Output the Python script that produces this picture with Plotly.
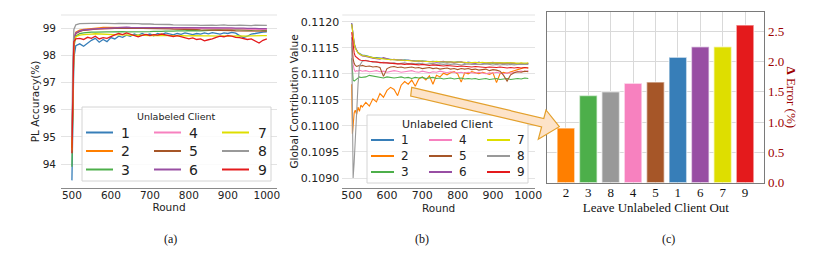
import plotly.graph_objects as go

W, H = 831, 254

CLIENTS = ["1", "2", "3", "4", "5", "6", "7", "8", "9"]
COLORS = {"1": "#377eb8", "2": "#ff7f00", "3": "#4daf4a", "4": "#f781bf", "5": "#a65628",
          "6": "#984ea3", "7": "#dede00", "8": "#999999", "9": "#e41a1c"}

# ---------------- (a) PL accuracy ----------------
ROUNDS_A = [500, 502, 505, 510, 520,
            530, 540, 550, 560, 570, 580, 590, 600,
            610, 620, 630, 640, 650, 660, 670, 680,
            690, 700, 710, 720, 730, 740, 750, 760,
            770, 780, 790, 800, 810, 820, 830, 840,
            850, 860, 870, 880, 890, 900, 910, 920,
            930, 940, 950, 960, 970, 980, 990, 1000]

ACC_1 = [93.4, 96.0, 97.9, 98.35, 98.42,
         98.33, 98.45, 98.55, 98.62, 98.48, 98.58, 98.5, 98.65,
         98.6, 98.7, 98.66, 98.74, 98.7, 98.78, 98.73, 98.8,
         98.74, 98.78, 98.72, 98.8, 98.76, 98.82, 98.78, 98.75,
         98.8, 98.77, 98.82, 98.79, 98.76, 98.8, 98.78, 98.82,
         98.79, 98.83, 98.8, 98.78, 98.82, 98.8, 98.84, 98.81,
         98.72, 98.65, 98.7, 98.78, 98.8, 98.83, 98.85, 98.86]
ACC_2 = [94.7, 97.0, 98.6, 98.85, 98.92,
         98.95, 98.97, 98.99, 99.0, 99.01, 99.02, 99.02, 99.03,
         99.03, 99.02, 99.03, 99.02, 99.02, 99.03, 99.02, 99.01,
         99.02, 99.01, 99.01, 99.02, 99.01, 99.0, 99.01, 99.01,
         99.0, 99.01, 99.0, 99.0, 98.99, 99.0, 98.99, 98.99,
         98.98, 98.99, 98.98, 98.98, 98.97, 98.97, 98.96, 98.97,
         98.96, 98.95, 98.96, 98.95, 98.94, 98.95, 98.93, 98.94]
ACC_3 = [93.9, 96.3, 98.3, 98.7, 98.8,
         98.82, 98.84, 98.85, 98.85, 98.86, 98.85, 98.86, 98.86,
         98.87, 98.86, 98.87, 98.86, 98.86, 98.85, 98.86, 98.87,
         98.86, 98.87, 98.88, 98.87, 98.88, 98.89, 98.88, 98.89,
         98.9, 98.89, 98.9, 98.91, 98.9, 98.91, 98.9, 98.91,
         98.92, 98.91, 98.92, 98.93, 98.92, 98.93, 98.92, 98.93,
         98.93, 98.92, 98.93, 98.92, 98.93, 98.94, 98.92, 98.91]
ACC_4 = [94.8, 97.1, 98.55, 98.8, 98.88,
         98.92, 98.94, 98.95, 98.96, 98.97, 98.97, 98.98, 98.99,
         98.99, 99.0, 98.99, 99.0, 99.0, 98.99, 99.0, 99.0,
         98.99, 99.0, 99.0, 98.99, 99.0, 99.0, 98.99, 99.0,
         99.0, 98.99, 99.0, 99.0, 98.99, 98.99, 99.0, 98.99,
         98.99, 98.98, 98.99, 98.98, 98.98, 98.97, 98.98, 98.97,
         98.96, 98.97, 98.96, 98.95, 98.96, 98.95, 98.94, 98.95]
ACC_5 = [94.6, 96.9, 98.5, 98.8, 98.88,
         98.92, 98.94, 98.95, 98.96, 98.97, 98.98, 98.98, 98.99,
         98.99, 98.99, 99.0, 98.99, 98.99, 99.0, 98.99, 98.99,
         98.99, 98.98, 98.99, 98.98, 98.98, 98.97, 98.97, 98.96,
         98.96, 98.96, 98.95, 98.95, 98.94, 98.94, 98.93, 98.93,
         98.93, 98.92, 98.92, 98.91, 98.92, 98.91, 98.91, 98.9,
         98.9, 98.9, 98.89, 98.9, 98.89, 98.89, 98.88, 98.89]
ACC_6 = [94.9, 97.2, 98.6, 98.82, 98.9,
         98.93, 98.95, 98.96, 98.97, 98.98, 98.99, 99.0, 99.01,
         99.01, 99.02, 99.02, 99.03, 99.02, 99.02, 99.03, 99.02,
         99.02, 99.03, 99.02, 99.02, 99.02, 99.03, 99.02, 99.02,
         99.03, 99.02, 99.02, 99.03, 99.02, 99.02, 99.03, 99.02,
         99.02, 99.02, 99.01, 99.02, 99.02, 99.01, 99.01, 99.0,
         99.01, 99.0, 98.99, 99.0, 98.99, 98.98, 98.99, 98.98]
ACC_7 = [94.5, 96.9, 98.45, 98.68, 98.74,
         98.76, 98.78, 98.78, 98.79, 98.78, 98.77, 98.77, 98.76,
         98.76, 98.75, 98.75, 98.74, 98.74, 98.73, 98.74, 98.73,
         98.73, 98.72, 98.73, 98.72, 98.72, 98.73, 98.72, 98.72,
         98.71, 98.72, 98.71, 98.71, 98.72, 98.71, 98.7, 98.71,
         98.71, 98.7, 98.71, 98.7, 98.71, 98.7, 98.7, 98.71,
         98.7, 98.71, 98.7, 98.71, 98.72, 98.71, 98.72, 98.72]
ACC_8 = [95.0, 97.6, 98.95, 99.12, 99.16,
         99.17, 99.18, 99.17, 99.17, 99.16, 99.17, 99.17, 99.16,
         99.16, 99.17, 99.17, 99.18, 99.17, 99.16, 99.16, 99.15,
         99.16, 99.15, 99.14, 99.14, 99.15, 99.14, 99.13, 99.12,
         99.12, 99.13, 99.12, 99.11, 99.12, 99.11, 99.10, 99.11,
         99.12, 99.11, 99.10, 99.11, 99.12, 99.10, 99.09, 99.10,
         99.11, 99.10, 99.08, 99.09, 99.11, 99.10, 99.11, 99.10]
ACC_9 = [94.4, 96.8, 98.5, 98.6, 98.62,
         98.58, 98.66, 98.62, 98.7, 98.6, 98.65, 98.62, 98.7,
         98.75, 98.8, 98.76, 98.82, 98.77, 98.72, 98.68, 98.73,
         98.77, 98.72, 98.76, 98.74, 98.78, 98.75, 98.71, 98.69,
         98.72, 98.68, 98.65, 98.6, 98.64, 98.58, 98.6, 98.53,
         98.57, 98.6, 98.66, 98.7, 98.68, 98.72, 98.7, 98.66,
         98.65, 98.62, 98.58, 98.6, 98.52, 98.45, 98.55, 98.6]
ACC = {"1": ACC_1, "2": ACC_2, "3": ACC_3, "4": ACC_4, "5": ACC_5,
       "6": ACC_6, "7": ACC_7, "8": ACC_8, "9": ACC_9}

# ---------------- (b) global contribution value ----------------
ROUNDS_B = [500, 502, 504, 507, 510, 514, 518, 522, 526,
            530, 540, 550, 560, 570, 580, 590, 600,
            610, 620, 630, 640, 650, 660, 670, 680,
            690, 700, 710, 720, 730, 740, 750, 760,
            770, 780, 790, 800, 810, 820, 830, 840,
            850, 860, 870, 880, 890, 900, 910, 920,
            930, 940, 950, 960, 970, 980, 990, 1000]

GCV_1 = [0.11197, 0.11185, 0.11170, 0.11158, 0.11150, 0.11145, 0.11141, 0.11139, 0.11137,
         0.11136, 0.11135, 0.11133, 0.11131, 0.11131, 0.11130, 0.11129, 0.11129,
         0.11128, 0.11127, 0.11127, 0.11126, 0.11127, 0.11126, 0.11125, 0.11125,
         0.11124, 0.11125, 0.11124, 0.11123, 0.11124, 0.11123, 0.11123, 0.11122,
         0.11123, 0.11122, 0.11122, 0.11123, 0.11122, 0.11121, 0.11122, 0.11121,
         0.11121, 0.11122, 0.11121, 0.11120, 0.11121, 0.11120, 0.11121, 0.11120,
         0.11120, 0.11121, 0.11120, 0.11119, 0.11120, 0.11119, 0.11120, 0.11119]
GCV_2 = [0.11080, 0.10985, 0.11000, 0.11025, 0.11030, 0.11022, 0.11036, 0.11028, 0.11040,
         0.11036, 0.11045, 0.11038, 0.11052, 0.11046, 0.11062, 0.11055, 0.11068,
         0.11074, 0.11070, 0.11058, 0.11078, 0.11085, 0.11080, 0.11088, 0.11076,
         0.11090, 0.11094, 0.11088, 0.11096, 0.11080, 0.11097, 0.11094, 0.11101,
         0.11098, 0.11102, 0.11104, 0.11100, 0.11084, 0.11102, 0.11100, 0.11104,
         0.11102, 0.11100, 0.11103, 0.11101, 0.11099, 0.11102, 0.11083, 0.11100,
         0.11103, 0.11101, 0.11104, 0.11106, 0.11108, 0.11110, 0.11112, 0.11111]
GCV_3 = [0.11130, 0.11100, 0.11088, 0.11086, 0.11088, 0.11090, 0.11092, 0.11094, 0.11093,
         0.11093, 0.11094, 0.11097, 0.11096, 0.11095, 0.11093, 0.11092, 0.11094,
         0.11093, 0.11092, 0.11093, 0.11094, 0.11092, 0.11093, 0.11091, 0.11093,
         0.11092, 0.11093, 0.11091, 0.11092, 0.11093, 0.11091, 0.11092, 0.11090,
         0.11091, 0.11092, 0.11090, 0.11091, 0.11092, 0.11090, 0.11091, 0.11090,
         0.11091, 0.11089, 0.11090, 0.11091, 0.11089, 0.11090, 0.11091, 0.11089,
         0.11090, 0.11091, 0.11089, 0.11090, 0.11091, 0.11090, 0.11092, 0.11091]
GCV_4 = [0.11170, 0.11140, 0.11118, 0.11108, 0.11104, 0.11106, 0.11105, 0.11107, 0.11106,
         0.11105, 0.11106, 0.11104, 0.11105, 0.11106, 0.11104, 0.11105, 0.11103,
         0.11104, 0.11106, 0.11105, 0.11103, 0.11104, 0.11105, 0.11106, 0.11104,
         0.11103, 0.11105, 0.11104, 0.11102, 0.11104, 0.11103, 0.11105, 0.11103,
         0.11102, 0.11104, 0.11103, 0.11102, 0.11103, 0.11101, 0.11103, 0.11102,
         0.11101, 0.11103, 0.11102, 0.11100, 0.11102, 0.11101, 0.11103, 0.11101,
         0.11100, 0.11102, 0.11101, 0.11103, 0.11104, 0.11105, 0.11104, 0.11106]
GCV_5 = [0.11160, 0.11140, 0.11128, 0.11120, 0.11116, 0.11114, 0.11115, 0.11116, 0.11115,
         0.11116, 0.11114, 0.11115, 0.11113, 0.11114, 0.11112, 0.11095, 0.11110,
         0.11113, 0.11114, 0.11112, 0.11113, 0.11111, 0.11112, 0.11113, 0.11111,
         0.11112, 0.11110, 0.11111, 0.11112, 0.11110, 0.11111, 0.11109, 0.11110,
         0.11111, 0.11109, 0.11110, 0.11108, 0.11110, 0.11109, 0.11110, 0.11108,
         0.11109, 0.11107, 0.11108, 0.11109, 0.11106, 0.11108, 0.11107, 0.11105,
         0.11097, 0.11086, 0.11098, 0.11102, 0.11104, 0.11103, 0.11105, 0.11104]
GCV_6 = [0.11197, 0.11186, 0.11172, 0.11160, 0.11151, 0.11145, 0.11140, 0.11138, 0.11136,
         0.11134, 0.11133, 0.11131, 0.11130, 0.11129, 0.11128, 0.11131, 0.11129,
         0.11127, 0.11128, 0.11126, 0.11127, 0.11125, 0.11126, 0.11125, 0.11124,
         0.11125, 0.11123, 0.11124, 0.11124, 0.11123, 0.11122, 0.11123, 0.11124,
         0.11122, 0.11123, 0.11121, 0.11122, 0.11123, 0.11121, 0.11122, 0.11121,
         0.11120, 0.11122, 0.11121, 0.11120, 0.11121, 0.11122, 0.11120, 0.11121,
         0.11120, 0.11119, 0.11121, 0.11120, 0.11119, 0.11120, 0.11119, 0.11120]
GCV_7 = [0.11195, 0.11184, 0.11170, 0.11158, 0.11149, 0.11144, 0.11140, 0.11138, 0.11136,
         0.11135, 0.11134, 0.11132, 0.11131, 0.11130, 0.11129, 0.11128, 0.11128,
         0.11127, 0.11127, 0.11126, 0.11126, 0.11126, 0.11125, 0.11125, 0.11124,
         0.11125, 0.11124, 0.11124, 0.11123, 0.11123, 0.11124, 0.11123, 0.11123,
         0.11122, 0.11123, 0.11122, 0.11122, 0.11123, 0.11122, 0.11121, 0.11122,
         0.11122, 0.11121, 0.11122, 0.11121, 0.11121, 0.11122, 0.11121, 0.11121,
         0.11121, 0.11122, 0.11121, 0.11121, 0.11120, 0.11121, 0.11120, 0.11121]
GCV_8 = [0.11170, 0.11000, 0.10900, 0.10930, 0.10980, 0.11030, 0.11080, 0.11115, 0.11120,
         0.11124, 0.11126, 0.11124, 0.11122, 0.11123, 0.11121, 0.11122, 0.11121,
         0.11120, 0.11121, 0.11119, 0.11120, 0.11121, 0.11119, 0.11120, 0.11119,
         0.11120, 0.11119, 0.11118, 0.11119, 0.11120, 0.11118, 0.11119, 0.11118,
         0.11119, 0.11118, 0.11119, 0.11118, 0.11117, 0.11118, 0.11119, 0.11118,
         0.11118, 0.11117, 0.11118, 0.11119, 0.11118, 0.11117, 0.11118, 0.11117,
         0.11118, 0.11117, 0.11118, 0.11117, 0.11118, 0.11118, 0.11117, 0.11118]
GCV_9 = [0.11180, 0.11165, 0.11150, 0.11140, 0.11134, 0.11131, 0.11129, 0.11127, 0.11126,
         0.11126, 0.11125, 0.11124, 0.11123, 0.11123, 0.11122, 0.11121, 0.11121,
         0.11120, 0.11120, 0.11119, 0.11119, 0.11118, 0.11119, 0.11118, 0.11117,
         0.11117, 0.11118, 0.11117, 0.11116, 0.11117, 0.11116, 0.11116, 0.11115,
         0.11116, 0.11115, 0.11115, 0.11114, 0.11115, 0.11114, 0.11114, 0.11113,
         0.11114, 0.11113, 0.11113, 0.11112, 0.11113, 0.11112, 0.11112, 0.11113,
         0.11112, 0.11111, 0.11112, 0.11111, 0.11112, 0.11111, 0.11112, 0.11111]
GCV = {"1": GCV_1, "2": GCV_2, "3": GCV_3, "4": GCV_4, "5": GCV_5,
       "6": GCV_6, "7": GCV_7, "8": GCV_8, "9": GCV_9}

# ---------------- (c) leave-one-out error ----------------
LEAVE_OUT = ["2", "3", "8", "4", "5", "1", "6", "7", "9"]
DELTA_ERR = [0.90, 1.44, 1.50, 1.64, 1.66, 2.07, 2.24, 2.24, 2.60]

A_TICKS_X = [500, 600, 700, 800, 900, 1000]
A_TICKS_Y = [94, 95, 96, 97, 98, 99]
B_TICKS_Y = [0.1090, 0.1095, 0.1100, 0.1105, 0.1110, 0.1115, 0.1120]
C_TICKS_Y = [0.0, 0.5, 1.0, 1.5, 2.0, 2.5]


def fx(p):
    return p / W


def fy(p):
    return 1 - p / H


SANS = "DejaVu Sans"
SERIF = "Liberation Serif"
DARKRED = "#9b0000"
INK = "#222222"

fig = go.Figure()

for c in CLIENTS:
    fig.add_trace(go.Scatter(
        x=ROUNDS_A, y=ACC[c], mode="lines", name=c,
        line=dict(color=COLORS[c], width=1.3), showlegend=False,
        xaxis="x", yaxis="y"))

for c in CLIENTS:
    fig.add_trace(go.Scatter(
        x=ROUNDS_B, y=GCV[c], mode="lines", name=c,
        line=dict(color=COLORS[c], width=1.1), showlegend=False,
        xaxis="x2", yaxis="y2"))

fig.add_trace(go.Bar(
    x=LEAVE_OUT, y=DELTA_ERR, width=0.79,
    marker=dict(color=[COLORS[c] for c in LEAVE_OUT],
                line=dict(color="rgba(255,255,255,0.55)", width=1.5)),
    showlegend=False, xaxis="x3", yaxis="y3"))

TOP_AB = 15
BOT_AB = 188

fig.update_layout(
    template="none",
    width=W, height=H, autosize=False,
    margin=dict(l=0, r=0, t=0, b=0, pad=0),
    paper_bgcolor="white", plot_bgcolor="white",
    showlegend=False,
    xaxis=dict(domain=[fx(61), fx(277)], range=[472, 1026], anchor="y", automargin=False,
               tickvals=A_TICKS_X, showgrid=False, zeroline=False, ticks="",
               showline=True, linecolor="#8a8a8a", linewidth=1, ticklabelstandoff=-3,
               tickfont=dict(family=SANS, size=10.5, color=INK),
               title=dict(text="Round", font=dict(family=SANS, size=10.5, color=INK), standoff=0)),
    yaxis=dict(domain=[fy(BOT_AB), fy(TOP_AB)], range=[93.12, 99.48], anchor="x", automargin=False,
               tickvals=A_TICKS_Y, showgrid=True, gridcolor="#e3e3e3", gridwidth=1, zeroline=False,
               showline=False, ticks="", tickfont=dict(family=SANS, size=10.5, color=INK),
               ticklabelstandoff=4,
               title=dict(text="PL Accuracy(%)", font=dict(family=SANS, size=10.5, color=INK), standoff=0)),
    xaxis2=dict(domain=[fx(342.3), fx(535)], range=[473.4, 1019], anchor="y2", automargin=False,
                tickvals=A_TICKS_X, showgrid=False, zeroline=False, ticks="",
                showline=True, linecolor="#8a8a8a", linewidth=1, ticklabelstandoff=-3,
                tickfont=dict(family=SANS, size=11, color=INK),
                title=dict(text="Round", font=dict(family=SANS, size=10.5, color=INK), standoff=0)),
    yaxis2=dict(domain=[fy(BOT_AB), fy(TOP_AB)], range=[0.108808, 0.112128], anchor="x2",
                automargin=False, tickvals=B_TICKS_Y, tickformat=".4f", showgrid=True,
                gridcolor="#e3e3e3", gridwidth=1, zeroline=False, showline=False, ticks="",
                ticklabelstandoff=2, tickfont=dict(family=SANS, size=11, color=INK),
                title=dict(text="Global Contribution Value", font=dict(family=SANS, size=10.5, color=INK), standoff=0)),
    xaxis3=dict(domain=[fx(547.3), fx(764.3)], type="category", range=[-0.83, 8.86], anchor="y3",
                automargin=False, showgrid=True, gridcolor="#d9d9d9", gridwidth=1, zeroline=False,
                ticks="", showline=True, mirror=True, linecolor="#7a7a7a", linewidth=1,
                ticklabelstandoff=-2,
                tickfont=dict(family=SERIF, size=13, color="#111"),
                title=dict(text="Leave Unlabeled Client Out", font=dict(family=SERIF, size=13, color="#111"), standoff=0)),
    yaxis3=dict(domain=[fy(182.7), fy(12.3)], range=[0, 2.81], anchor="x3", side="right",
                automargin=False, tickvals=C_TICKS_Y, tickformat=".1f", showgrid=True,
                gridcolor="#d9d9d9", gridwidth=1, zeroline=False, ticks="",
                showline=True, mirror=True, linecolor="#7a7a7a", linewidth=1,
                tickfont=dict(family=SERIF, size=13, color=DARKRED), ticklabelstandoff=0),
)

# light top border lines of panels (a) and (b)
for xr in ("x", "x2"):
    fig.add_shape(type="line", xref=xr + " domain", yref="paper", x0=0, x1=1,
                  y0=fy(TOP_AB), y1=fy(TOP_AB), line=dict(color="#e3e3e3", width=1), layer="below")


# ---- legends (drawn as framed key boxes, 3 columns x 3 rows) ----
def draw_key(box, title_y, title_size, rows_y, line_x0, line_len, label_x, label_size):
    x0, x1, y0, y1 = box
    fig.add_shape(type="rect", xref="paper", yref="paper",
                  x0=fx(x0), x1=fx(x1), y0=fy(y1), y1=fy(y0),
                  fillcolor="rgba(255,255,255,0.85)", line=dict(color="#d4d4d4", width=1),
                  layer="above")
    fig.add_annotation(text="Unlabeled Client", xref="paper", yref="paper",
                       x=fx((x0 + x1) / 2), y=fy(title_y), showarrow=False,
                       xanchor="center", yanchor="middle",
                       font=dict(family=SANS, size=title_size, color=INK))
    for i, c in enumerate(CLIENTS):
        col, row = i // 3, i % 3
        yy = fy(rows_y[row])
        fig.add_shape(type="line", xref="paper", yref="paper",
                      x0=fx(line_x0[col]), x1=fx(line_x0[col] + line_len), y0=yy, y1=yy,
                      line=dict(color=COLORS[c], width=2), layer="above")
        fig.add_annotation(text=c, xref="paper", yref="paper", x=fx(label_x[col]), y=yy,
                           showarrow=False, xanchor="center", yanchor="middle",
                           font=dict(family=SANS, size=label_size, color=INK))


draw_key((82, 271, 107, 181), 116, 9.5, (132.5, 151, 169.5), (86, 154, 222), 27,
         (125.5, 193.5, 262.5), 14)
draw_key((367, 528, 115, 183), 124, 11, (140, 156, 172), (371, 429, 487), 23,
         (404.5, 463, 521), 12)

# right axis title of (c), reading top to bottom
fig.add_annotation(text="<b>Δ</b> Error (%)", xref="paper", yref="paper", x=fx(791), y=fy(97.5),
                   showarrow=False, textangle=90, xanchor="center", yanchor="middle",
                   font=dict(family=SERIF, size=13, color=DARKRED))

# captions
for lab, cx in (("(a)", 170), ("(b)", 422), ("(c)", 668)):
    fig.add_annotation(text=lab, xref="paper", yref="paper", x=fx(cx), y=fy(239),
                       showarrow=False, xanchor="center", yanchor="middle",
                       font=dict(family=SERIF, size=12, color="#111"))

# block arrow from (b) to (c)
arrow_px = [(411.7, 87.3), (543.8, 118.5), (546.0, 110.0), (559.3, 126.7),
            (538.3, 139.3), (541.6, 126.9), (410.7, 96.0)]
path = "M " + " L ".join("%.5f,%.5f" % (fx(x), fy(y)) for x, y in arrow_px) + " Z"
fig.add_shape(type="path", path=path, xref="paper", yref="paper",
              fillcolor="#fde3c9", line=dict(color="#e3a02c", width=1.2), layer="above")

# the page's default body margin would offset the figure; remove it
fig.write_html("out.html", config={"displayModeBar": False, "staticPlot": True},
               post_script="document.body.style.margin='0px';")
